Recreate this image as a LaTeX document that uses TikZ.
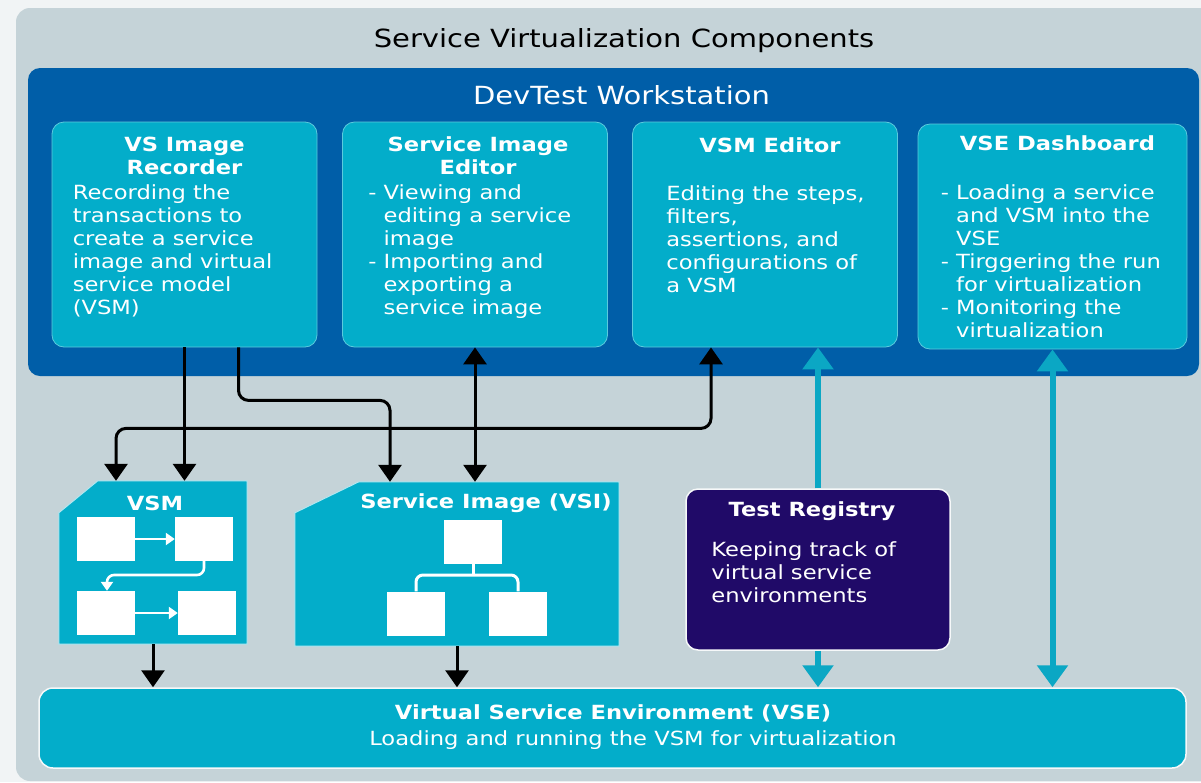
\documentclass[tikz,border=0pt]{standalone}
\usepackage{fontspec}
\setmainfont{DejaVu Sans}[FakeStretch=1.16]
\usepackage[HTML]{xcolor}
\usepackage{tikz}
\usetikzlibrary{positioning, arrows.meta}

\definecolor{stripwhite}{HTML}{F1F4F5}
\definecolor{panelgrey}{HTML}{C5D3D8}
\definecolor{wsblue}{HTML}{005EA8}
\definecolor{compcyan}{HTML}{03ADCA}
\definecolor{flowteal}{HTML}{0BA7C4}
\definecolor{regpurple}{HTML}{200A68}

\tikzset{
  compbox/.style={fill=compcyan, draw=compcyan!65!white, line width=0.8pt,
    rounded corners=12pt, inner sep=0pt, minimum width=265pt, minimum height=225pt},
  areabox/.style={inner sep=0pt},
  whitesq/.style={fill=white, inner sep=0pt, minimum width=58pt, minimum height=44pt},
  boxtitle/.style={font=\fontsize{19.5}{23}\selectfont\bfseries, text=white,
    align=center, inner sep=0pt, anchor=north},
  boxbody/.style={font=\fontsize{19.5}{23}\selectfont, text=white,
    align=left, inner sep=0pt, anchor=north west},
  bigtitle/.style={font=\fontsize{25}{30}\selectfont, inner sep=0pt},
  blkarrow/.style={line width=3pt, rounded corners=10pt,
    -{Triangle[width=23pt,length=17pt]}},
  blkdouble/.style={line width=3pt, rounded corners=10pt,
    {Triangle[width=23pt,length=17pt]}-{Triangle[width=23pt,length=17pt]}},
  tealarrow/.style={flowteal, line width=6pt,
    -{Triangle[width=30pt,length=22pt]}},
  tealdouble/.style={flowteal, line width=6pt,
    {Triangle[width=30pt,length=22pt]}-{Triangle[width=30pt,length=22pt]}},
  whtarrow/.style={white, line width=2.6pt, rounded corners=7pt,
    -{Triangle[width=12pt,length=9pt]}},
  whtline/.style={white, line width=3pt, rounded corners=7pt}
}

\begin{document}
\begin{tikzpicture}[x=1pt, y=-1pt]
\useasboundingbox (0,0) rectangle (1201,782);
% background and outer panel
\fill[stripwhite] (0,0) rectangle (1201,782);
\fill[panelgrey, rounded corners=14pt] (16,8) rectangle (1215,781);
\node[bigtitle] (maintitle) at (624,41) {Service Virtualization Components};

% workstation panel
\node[fill=wsblue, rounded corners=12pt, inner sep=0pt,
  minimum width=1171pt, minimum height=308pt] (ws) at (613.5,222) {};
\node[bigtitle, text=white] (wstitle) at ([xshift=8pt,yshift=-27pt]ws.north) {DevTest Workstation};

% workstation components
\node[compbox] (rec) at (184.5,234.5) {};
\node[compbox] (sie) at (475,234.5) {};
\node[compbox] (vsme) at (765,234.5) {};
\node[compbox, minimum width=269pt] (dash) at (1052.5,236.5) {};

\node[boxtitle] (rectitle) at ([yshift=-15pt]rec.north) {VS Image\\Recorder};
\node[boxbody] (rectext) at ([xshift=21pt,yshift=-63pt]rec.north west)
  {Recording the\\transactions to\\create a service\\image and virtual\\service model\\(VSM)};

\node[boxtitle] (sietitle) at ([xshift=3pt,yshift=-15pt]sie.north) {Service Image\\Editor};
\node[boxbody] (sietext) at ([xshift=26pt,yshift=-63pt]sie.north west)
  {- Viewing and\\\phantom{- }editing a service\\\phantom{- }image\\- Importing and\\\phantom{- }exporting a\\\phantom{- }service image};

\node[boxtitle] (vsmetitle) at ([xshift=5pt,yshift=-16pt]vsme.north) {VSM Editor};
\node[boxbody] (vsmetext) at ([xshift=34pt,yshift=-64pt]vsme.north west)
  {Editing the steps,\\filters,\\assertions, and\\configurations of\\a VSM};

\node[boxtitle] (dashtitle) at ([xshift=5pt,yshift=-12pt]dash.north) {VSE Dashboard};
\node[boxbody] (dashtext) at ([xshift=23pt,yshift=-61pt]dash.north west)
  {- Loading a service\\\phantom{- }and VSM into the\\\phantom{- }VSE\\- Tirggering the run\\\phantom{- }for virtualization\\- Monitoring the\\\phantom{- }virtualization};

% VSM and service image
\node[areabox, minimum width=188pt, minimum height=163pt] (vsm) at (153,562.5) {};
\fill[compcyan, draw=white!70!compcyan, line width=1pt]
  ([yshift=-32pt]vsm.north west) -- ([xshift=39pt]vsm.north west) -- (vsm.north east)
  -- (vsm.south east) -- (vsm.south west) -- cycle;
\node[areabox, minimum width=324pt, minimum height=164pt] (si) at (457,564) {};
\fill[compcyan, draw=white!70!compcyan, line width=1pt]
  ([yshift=-31pt]si.north west) -- ([xshift=64pt]si.north west) -- (si.north east)
  -- (si.south east) -- (si.south west) -- cycle;
\node[boxtitle, anchor=center] (vsmtitle) at (155,503) {VSM};
\node[boxtitle, anchor=center] (sititle) at (486,503) {Service Image (VSI)};

\node[whitesq] (vsmA) at (106,539) {};
\node[whitesq] (vsmB) at (204,539) {};
\node[whitesq] (vsmC) at (106,613) {};
\node[whitesq] (vsmD) at (207,613) {};
\coordinate (vsmbend) at (107,575);
\draw[whtarrow] (vsmA) -- (vsmB);
\draw[whtarrow] (vsmB.south) |- (vsmbend) -- (vsmbend |- vsmC.north);
\draw[whtarrow] (vsmC) -- (vsmD);

\node[whitesq] (siTop) at (473,541.5) {};
\node[whitesq] (siLeft) at (416,613.5) {};
\node[whitesq] (siRight) at (518,613.5) {};
\coordinate (sifork) at (473,575);
\draw[whtline] (siTop.south) -- (sifork);
\draw[whtline] (siLeft.north) |- (sifork) -| (siRight.north);

% test registry and VSE
\node[fill=regpurple, draw=white!85!panelgrey, line width=1.5pt, rounded corners=12pt,
  inner sep=0pt, minimum width=264pt, minimum height=161pt] (treg) at (818,569.5) {};
\node[boxtitle] (tregtitle) at ([xshift=-6pt,yshift=-13pt]treg.north) {Test Registry};
\node[boxbody] (tregtext) at ([xshift=26pt,yshift=-53pt]treg.north west)
  {Keeping track of\\virtual service\\environments};

\node[fill=compcyan, draw=white!85!panelgrey, line width=1.5pt, rounded corners=14pt,
  inner sep=0pt, minimum width=1147pt, minimum height=80pt] (vse) at (612.5,728) {};
\node[boxtitle, anchor=center] (vsetitle) at (613,713) {Virtual Service Environment (VSE)};
\node[boxbody, anchor=center] (vsetext) at (633,740) {Loading and running the VSM for virtualization};

% black connectors
\draw[blkarrow] (rec.south) -- (rec.south |- vsm.north);
\draw[blkarrow] ([xshift=54pt]rec.south) -- ++(0,53) -| ([xshift=-67pt]si.north);
\draw[blkdouble] (sie.south) -- (sie.south |- si.north);
\draw[blkdouble] ([xshift=-54pt]vsme.south) -- ++(0,81) -| ([xshift=-37pt]vsm.north);
\draw[blkarrow] (vsm.south) -- (vsm.south |- vse.north);
\draw[blkarrow] (si.south) -- (si.south |- vse.north);

% teal connectors
\draw[tealarrow] (treg.north) -- (treg.north |- vsme.south);
\draw[tealarrow] (treg.south) -- (treg.south |- vse.north);
\draw[tealdouble] (dash.south) -- (dash.south |- vse.north);
\end{tikzpicture}
\end{document}
